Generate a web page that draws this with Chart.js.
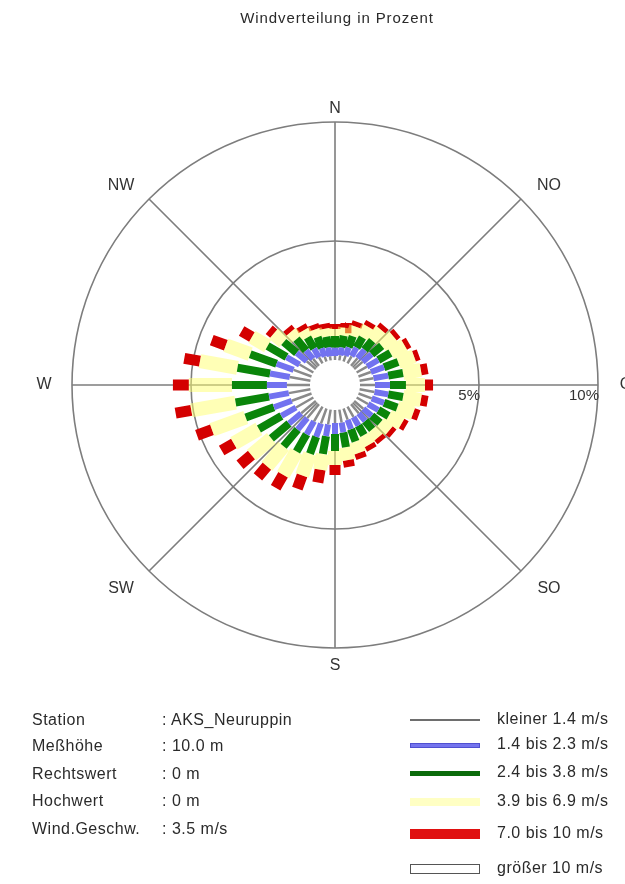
<!DOCTYPE html>
<html lang="de">
<head>
<meta charset="utf-8">
<title>Windverteilung in Prozent</title>
<script src="https://cdn.jsdelivr.net/npm/chart.js@4.4.1/dist/chart.umd.min.js"></script>
<style>
  html, body { margin: 0; padding: 0; background: #fff; }
  #page { position: relative; width: 625px; height: 884px; overflow: hidden;
          font-family: "Liberation Sans", Arial, sans-serif; color: #2a2a2a; }
  #rose { position: absolute; left: 0; top: 0; }
  #title { position: absolute; top: 9px; left: 0; width: 674px; text-align: center;
           font-size: 15px; letter-spacing: 0.9px; }
  .info { position: absolute; font-size: 16px; line-height: 18px; letter-spacing: 0.5px; white-space: nowrap; }
  .swatch { position: absolute; left: 410px; width: 70px; box-sizing: border-box; }
  .lg { position: absolute; left: 497px; font-size: 16px; line-height: 18px; letter-spacing: 0.5px; white-space: nowrap; }
</style>
</head>
<body>
<div id="page">
  <canvas id="rose" width="625" height="884"></canvas>
  <div id="title">Windverteilung in Prozent</div>
  <div id="info"></div>
  <div id="legend"></div>
</div>
<script>
// Wind directions (degrees, clockwise from north)
const directions = [0, 10, 20, 30, 40, 50, 60, 70, 80, 90, 100, 110, 120, 130, 140, 150, 160, 170,
                    180, 190, 200, 210, 220, 230, 240, 250, 260, 270, 280, 290, 300, 310, 320, 330, 340, 350];

// Frequency in percent per direction for each wind speed class
const speedBelow14 = [0.17, 0.21, 0.25, 0.34, 0.42, 0.46, 0.50, 0.55, 0.59, 0.63, 0.63, 0.59, 0.55, 0.50, 0.50, 0.50, 0.50, 0.55,
                      0.55, 0.63, 0.67, 0.71, 0.76, 0.80, 0.84, 0.88, 0.92, 0.97, 0.88, 0.80, 0.67, 0.50, 0.38, 0.29, 0.21, 0.17];
const speed14to23  = [0.34, 0.34, 0.38, 0.42, 0.46, 0.50, 0.55, 0.59, 0.63, 0.63, 0.59, 0.55, 0.50, 0.46, 0.42, 0.42, 0.42, 0.42,
                      0.46, 0.50, 0.59, 0.63, 0.63, 0.67, 0.71, 0.80, 0.84, 0.84, 0.84, 0.76, 0.63, 0.55, 0.46, 0.42, 0.38, 0.38];
const speed24to38  = [0.50, 0.50, 0.50, 0.50, 0.50, 0.55, 0.59, 0.63, 0.63, 0.67, 0.63, 0.59, 0.50, 0.46, 0.46, 0.46, 0.55, 0.63,
                      0.71, 0.76, 0.76, 0.84, 0.92, 0.97, 1.09, 1.26, 1.43, 1.47, 1.39, 1.18, 0.92, 0.71, 0.63, 0.55, 0.50, 0.46];
const speed39to69  = [0.29, 0.34, 0.42, 0.50, 0.59, 0.63, 0.67, 0.71, 0.76, 0.80, 0.76, 0.71, 0.63, 0.50, 0.42, 0.46, 0.50, 0.55,
                      0.59, 0.67, 0.97, 1.13, 1.09, 1.09, 1.22, 1.51, 1.89, 1.81, 1.60, 1.09, 0.76, 0.55, 0.38, 0.34, 0.34, 0.34];
const speed70to10  = [0.21, 0.21, 0.21, 0.21, 0.21, 0.21, 0.21, 0.21, 0.29, 0.34, 0.29, 0.25, 0.21, 0.21, 0.21, 0.21, 0.25, 0.29,
                      0.42, 0.55, 0.59, 0.63, 0.59, 0.63, 0.59, 0.67, 0.67, 0.67, 0.67, 0.63, 0.50, 0.25, 0.21, 0.21, 0.21, 0.21];
const speedAbove10 = [0, 0, 0, 0, 0, 0, 0, 0, 0, 0, 0, 0, 0, 0, 0, 0, 0, 0,
                      0, 0, 0, 0, 0, 0, 0, 0, 0, 0, 0, 0, 0, 0, 0, 0, 0, 0];

const classLabels = ['kleiner 1.4 m/s', '1.4 bis 2.3 m/s', '2.4 bis 3.8 m/s', '3.9 bis 6.9 m/s', '7.0 bis 10 m/s', 'größer 10 m/s'];
const ringValues = [5, 10];
const ringLabels = ['5%', '10%'];
const compassLabels = ['N', 'NO', 'O', 'SO', 'S', 'SW', 'W', 'NW'];
const compassAngles = [0, 45, 90, 135, 180, 225, 270, 315];

const stationKeys = ['Station', 'Meßhöhe', 'Rechtswert', 'Hochwert', 'Wind.Geschw.'];
const stationValues = [': AKS_Neuruppin', ': 10.0 m', ': 0 m', ': 0 m', ': 3.5 m/s'];

// Radius of the calm circle in the middle, in percent units of the radial scale
const calmRadius = 1.05;
const outerValue = calmRadius + ringValues[ringValues.length - 1];

const classStyles = [
  { color: '#8a8a8a', width: 2.5 },
  { color: '#7272f0', width: 6 },
  { color: '#0a850a', width: 8 },
  { color: 'rgba(255,255,110,0.5)', width: 14 },
  { color: '#d40000', width: 11 },
  { color: '#ffffff', width: 10 }
];

const series = [speedBelow14, speed14to23, speed24to38, speed39to69, speed70to10, speedAbove10];

// Each direction gets one radial segment per speed class, stacked outwards
const stackBase = directions.map(() => calmRadius);
const datasets = series.map((values, k) => {
  const pts = [];
  directions.forEach((deg, i) => {
    const a = deg * Math.PI / 180;
    const r0 = stackBase[i];
    const r1 = r0 + values[i];
    stackBase[i] = r1;
    if (values[i] > 0) {
      pts.push({ x: r0 * Math.sin(a), y: r0 * Math.cos(a) });
      pts.push({ x: r1 * Math.sin(a), y: r1 * Math.cos(a) });
      pts.push({ x: null, y: null });
    }
  });
  return {
    label: classLabels[k],
    data: pts,
    showLine: true,
    spanGaps: false,
    borderColor: classStyles[k].color,
    borderWidth: classStyles[k].width,
    borderCapStyle: 'butt',
    pointRadius: 0,
    pointHoverRadius: 0,
    tension: 0
  };
});

// Rings, spokes and compass / percent labels
const roseGrid = {
  id: 'roseGrid',
  beforeDatasetsDraw(chart) {
    const { ctx, scales: { x, y } } = chart;
    const cx = x.getPixelForValue(0), cy = y.getPixelForValue(0);
    const rad = v => Math.abs(x.getPixelForValue(v) - cx);
    ctx.save();
    ctx.strokeStyle = '#7d7d7d';
    ctx.lineWidth = 1.6;
    ringValues.forEach(v => {
      ctx.beginPath();
      ctx.arc(cx, cy, rad(calmRadius + v), 0, Math.PI * 2);
      ctx.stroke();
    });
    const r0 = rad(calmRadius), r1 = rad(outerValue);
    compassAngles.forEach(deg => {
      const a = deg * Math.PI / 180;
      ctx.beginPath();
      ctx.moveTo(cx + r0 * Math.sin(a), cy - r0 * Math.cos(a));
      ctx.lineTo(cx + r1 * Math.sin(a), cy - r1 * Math.cos(a));
      ctx.stroke();
    });
    ctx.restore();
  },
  afterDatasetsDraw(chart) {
    const { ctx, scales: { x, y } } = chart;
    const cx = x.getPixelForValue(0), cy = y.getPixelForValue(0);
    const rad = v => Math.abs(x.getPixelForValue(v) - cx);
    const R = rad(outerValue);
    ctx.save();
    ctx.fillStyle = '#333';
    ctx.font = '16px "Liberation Sans", Arial, sans-serif';
    ctx.textAlign = 'center';
    ctx.textBaseline = 'middle';
    compassLabels.forEach((t, i) => {
      const a = compassAngles[i] * Math.PI / 180;
      const s = Math.sin(a), c = Math.cos(a);
      let px = cx + R * s, py = cy - R * c;
      if (Math.abs(s) > 0.01) px += Math.sign(s) * 28;
      if (c > 0.01) py -= 13;
      if (c < -0.01) py += 18;
      ctx.fillText(t, px, py);
    });
    ctx.font = '15px "Liberation Sans", Arial, sans-serif';
    ctx.textAlign = 'right';
    ctx.textBaseline = 'top';
    ringValues.forEach((v, i) => {
      ctx.fillText(ringLabels[i], cx + rad(calmRadius + v) + 1, cy + 3);
    });
    ctx.restore();
  }
};

new Chart(document.getElementById('rose'), {
  type: 'scatter',
  data: { datasets },
  options: {
    responsive: false,
    maintainAspectRatio: false,
    animation: false,
    layout: { padding: { left: 72, right: 27, top: 122, bottom: 236 } },
    scales: {
      x: { type: 'linear', min: -outerValue, max: outerValue, display: false },
      y: { type: 'linear', min: -outerValue, max: outerValue, display: false }
    },
    plugins: { legend: { display: false }, tooltip: { enabled: false }, title: { display: false } }
  },
  plugins: [roseGrid]
});

// Station details and speed class legend
const rowY = [711, 737, 765, 792, 820];
const info = document.getElementById('info');
stationKeys.forEach((k, i) => {
  const a = document.createElement('div');
  a.className = 'info'; a.style.left = '32px'; a.style.top = rowY[i] + 'px'; a.textContent = k;
  const b = document.createElement('div');
  b.className = 'info'; b.style.left = '162px'; b.style.top = rowY[i] + 'px'; b.textContent = stationValues[i];
  info.appendChild(a); info.appendChild(b);
});

const legendY = [720, 745, 773, 802, 834, 869];
const swatchCss = [
  'height:2px;background:#6e6e6e;',
  'height:5px;background:#7474ee;border:1px solid #5050d0;',
  'height:5px;background:#0b6b0b;',
  'height:8px;background:#ffffc4;',
  'height:10px;background:#e01010;',
  'height:10px;background:#fff;border:1.5px solid #555;'
];
const legend = document.getElementById('legend');
classLabels.forEach((t, i) => {
  const s = document.createElement('div');
  s.className = 'swatch';
  s.style.cssText = swatchCss[i];
  const h = parseFloat(s.style.height);
  s.style.top = (legendY[i] - h / 2) + 'px';
  const l = document.createElement('div');
  l.className = 'lg'; l.style.top = (legendY[i] - 10) + 'px'; l.textContent = t;
  legend.appendChild(s); legend.appendChild(l);
});
</script>
</body>
</html>
